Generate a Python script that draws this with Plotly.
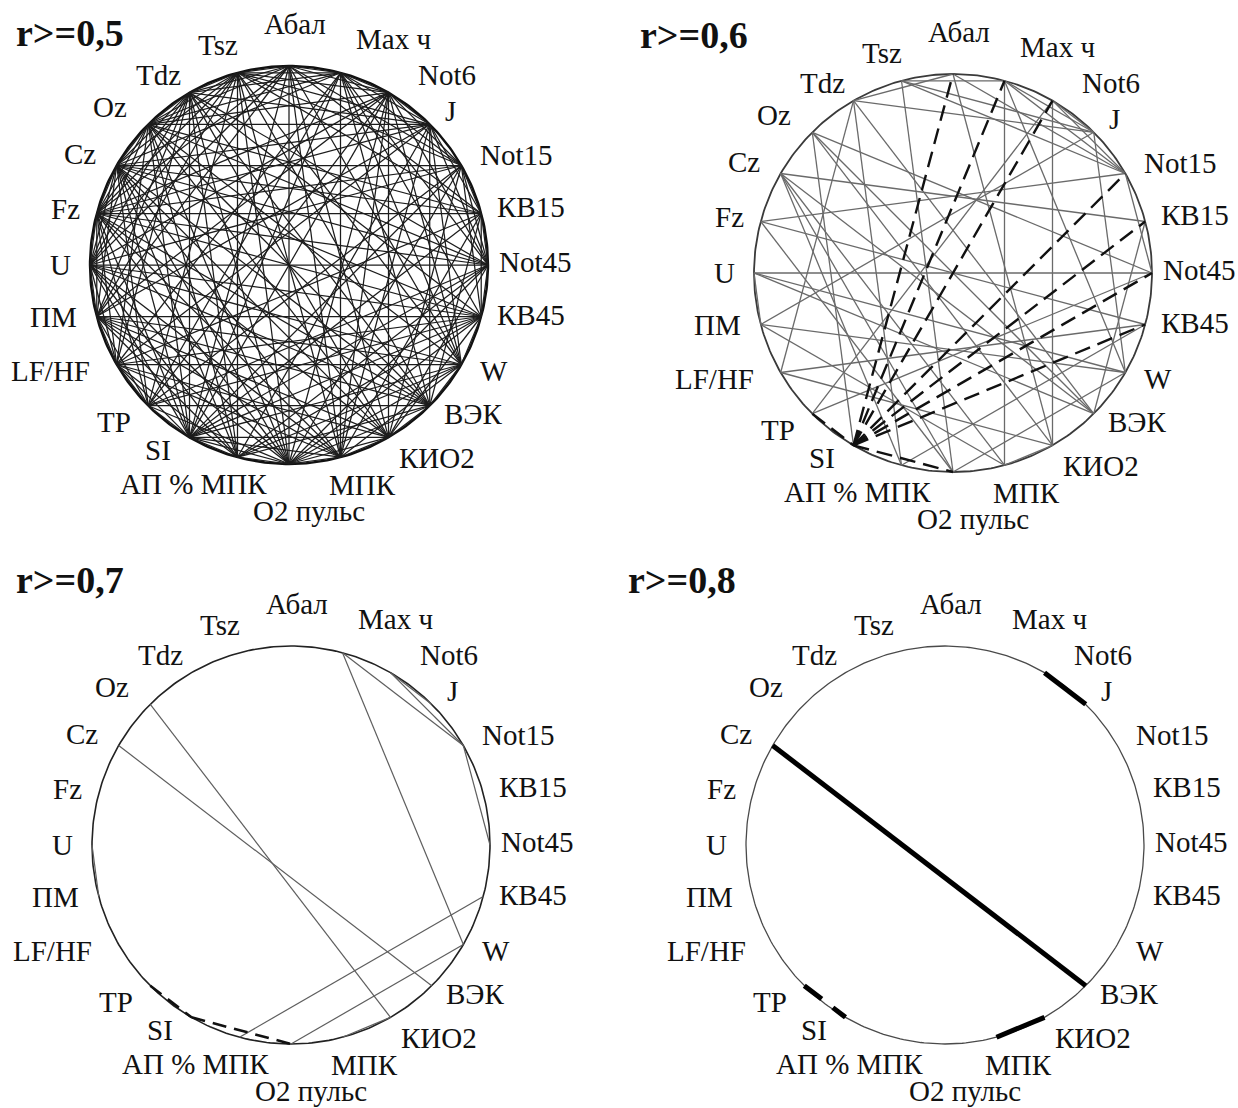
import math
import plotly.graph_objects as go

# ---------------- data ----------------
NODES = ["Абал", "Max ч", "Not6", "J", "Not15", "КВ15", "Not45", "КВ45", "W", "ВЭК",
         "КИО2", "МПК", "O2 пульс", "АП % МПК", "SI", "TP", "LF/HF", "ПМ", "U", "Fz",
         "Cz", "Oz", "Tdz", "Tsz"]

THRESHOLDS = [0.5, 0.6, 0.7, 0.8]

# links (node a, node b, sign of r) grouped by the highest threshold they reach
LINKS_08 = [("Cz", "ВЭК", 1), ("Not6", "J", 1), ("МПК", "КИО2", 1), ("TP", "SI", -1)]

LINKS_07 = [("Oz", "КИО2", 1), ("Max ч", "W", 1), ("Max ч", "Not15", 1), ("Not6", "Not15", 1),
            ("Not15", "Not45", 1), ("КВ45", "АП % МПК", 1), ("W", "O2 пульс", 1),
            ("U", "ПМ", 1), ("SI", "O2 пульс", -1)]

LINKS_06 = [("SI", "Абал", -1), ("SI", "Max ч", -1), ("SI", "Not6", -1), ("SI", "Not15", -1),
            ("SI", "КВ15", -1), ("SI", "Not45", -1), ("SI", "КВ45", -1),
            ("U", "Not45", 1), ("ПМ", "W", 1), ("ПМ", "J", 1), ("LF/HF", "КВ45", 1),
            ("LF/HF", "КИО2", 1), ("U", "W", 1), ("Oz", "SI", 1), ("Tdz", "АП % МПК", 1),
            ("Tdz", "J", 1), ("Tsz", "Not15", 1), ("Tsz", "J", 1), ("Абал", "Not15", 1),
            ("Абал", "КИО2", 1), ("Max ч", "J", 1), ("Max ч", "МПК", 1), ("Not6", "КИО2", 1),
            ("J", "W", 1), ("Cz", "КВ15", 1), ("Cz", "O2 пульс", 1), ("Fz", "Not15", 1),
            ("Fz", "КВ45", 1), ("Oz", "ВЭК", 1), ("Oz", "Not45", 1), ("Tdz", "ВЭК", 1),
            ("Tsz", "O2 пульс", 1), ("МПК", "Cz", 1), ("МПК", "ПМ", 1), ("O2 пульс", "Fz", 1),
            ("АП % МПК", "Cz", 1), ("TP", "Not45", 1), ("TP", "Not6", 1), ("LF/HF", "Tdz", 1),
            ("КВ15", "ВЭК", 1), ("Абал", "Tdz", 1), ("Max ч", "Tsz", 1), ("ВЭК", "U", 1)]

LINKS_05 = [
    ("Абал", "Tsz", 1), ("Абал", "Max ч", 1), ("Абал", "Not6", 1), ("Абал", "КВ15", 1),
    ("Абал", "W", 1), ("Абал", "МПК", 1), ("Абал", "O2 пульс", 1), ("Абал", "Oz", 1),
    ("Абал", "Fz", 1), ("Абал", "U", 1), ("Абал", "ПМ", 1),
    ("Max ч", "Not6", 1), ("Max ч", "Not45", 1), ("Max ч", "КВ45", 1), ("Max ч", "ВЭК", 1),
    ("Max ч", "TP", 1), ("Max ч", "LF/HF", 1), ("Max ч", "Cz", 1), ("Max ч", "Tdz", 1),
    ("Max ч", "Oz", 1),
    ("Not6", "Not45", 1), ("Not6", "W", 1), ("Not6", "МПК", 1), ("Not6", "O2 пульс", 1),
    ("Not6", "ПМ", 1), ("Not6", "U", 1), ("Not6", "Oz", 1), ("Not6", "Tsz", 1), ("Not6", "Fz", 1),
    ("J", "КВ15", 1), ("J", "Not45", 1), ("J", "ВЭК", 1), ("J", "МПК", 1), ("J", "АП % МПК", 1),
    ("J", "LF/HF", 1), ("J", "Fz", 1), ("J", "Cz", 1), ("J", "Oz", 1),
    ("Not15", "КВ15", 1), ("Not15", "КВ45", 1), ("Not15", "КИО2", 1), ("Not15", "O2 пульс", 1),
    ("Not15", "TP", 1), ("Not15", "U", 1), ("Not15", "Cz", 1),
    ("КВ15", "Not45", 1), ("КВ15", "КВ45", 1), ("КВ15", "МПК", 1), ("КВ15", "LF/HF", 1),
    ("КВ15", "Fz", 1), ("КВ15", "Oz", 1), ("КВ15", "Tsz", 1),
    ("Not45", "КВ45", 1), ("Not45", "КИО2", 1), ("Not45", "O2 пульс", 1),
    ("Not45", "АП % МПК", 1), ("Not45", "Fz", 1), ("Not45", "Cz", 1), ("Not45", "Tdz", 1),
    ("КВ45", "W", 1), ("КВ45", "КИО2", 1), ("КВ45", "O2 пульс", 1), ("КВ45", "TP", 1),
    ("КВ45", "ПМ", 1), ("КВ45", "U", 1), ("КВ45", "Cz", 1), ("КВ45", "Tdz", 1),
    ("W", "ВЭК", 1), ("W", "МПК", 1), ("W", "АП % МПК", 1), ("W", "SI", 1), ("W", "LF/HF", 1),
    ("W", "Oz", 1), ("W", "Tsz", 1),
    ("ВЭК", "КИО2", 1), ("ВЭК", "O2 пульс", 1), ("ВЭК", "АП % МПК", 1), ("ВЭК", "TP", 1),
    ("ВЭК", "ПМ", 1), ("ВЭК", "Fz", 1), ("ВЭК", "Tsz", 1),
    ("КИО2", "O2 пульс", 1), ("КИО2", "SI", 1), ("КИО2", "ПМ", 1), ("КИО2", "Fz", 1),
    ("КИО2", "Cz", 1), ("КИО2", "Tdz", 1),
    ("МПК", "O2 пульс", 1), ("МПК", "SI", 1), ("МПК", "LF/HF", 1), ("МПК", "U", 1),
    ("МПК", "Fz", 1), ("МПК", "Tsz", 1),
    ("O2 пульс", "АП % МПК", 1), ("O2 пульс", "TP", 1), ("O2 пульс", "ПМ", 1),
    ("O2 пульс", "U", 1), ("O2 пульс", "Oz", 1), ("O2 пульс", "Tdz", 1),
    ("АП % МПК", "SI", 1), ("АП % МПК", "LF/HF", 1), ("АП % МПК", "ПМ", 1),
    ("АП % МПК", "U", 1), ("АП % МПК", "Oz", 1), ("АП % МПК", "Tsz", 1),
    ("SI", "LF/HF", 1), ("SI", "U", 1), ("SI", "Fz", 1), ("SI", "Cz", 1), ("SI", "Tdz", 1),
    ("TP", "LF/HF", 1), ("TP", "ПМ", 1), ("TP", "Fz", 1), ("TP", "Cz", 1), ("TP", "Tsz", 1),
    ("LF/HF", "ПМ", 1), ("LF/HF", "U", 1), ("LF/HF", "Fz", 1), ("LF/HF", "Oz", 1),
    ("ПМ", "Fz", 1), ("ПМ", "Cz", 1), ("ПМ", "Tdz", 1), ("ПМ", "Tsz", 1),
    ("U", "Fz", 1), ("U", "Cz", 1), ("U", "Oz", 1), ("U", "Tdz", 1), ("U", "Tsz", 1),
    ("Fz", "Cz", 1), ("Fz", "Oz", 1), ("Fz", "Tdz", 1), ("Fz", "Tsz", 1),
    ("Cz", "Oz", 1), ("Cz", "Tdz", 1), ("Cz", "Tsz", 1),
    ("Oz", "Tdz", 1), ("Oz", "Tsz", 1), ("Tdz", "Tsz", 1),
]

BANDS = [(0.8, LINKS_08), (0.7, LINKS_07), (0.6, LINKS_06), (0.5, LINKS_05)]

# ---------------- layout / style ----------------
W, H = 1238, 1108
RADIUS_PX = 199
# panel boxes (x0, y0, x1, y1) in px and circle centre in px
PANELS = [
    dict(box=(0, 0, 619, 554), centre=(289, 265), title_xy=(14, 33)),
    dict(box=(619, 0, 1238, 554), centre=(953, 273), title_xy=(638, 35)),
    dict(box=(0, 554, 619, 1108), centre=(291, 845), title_xy=(14, 580)),
    dict(box=(619, 554, 1238, 1108), centre=(945, 845), title_xy=(626, 580)),
]
STYLES = [
    dict(circle=("#111111", 2.4), pos=("#1c1c1c", 1.25, "solid"), neg=("#1c1c1c", 1.25, "solid")),
    dict(circle=("#3a3a3a", 1.8), pos=("#6a6a6a", 1.3, "solid"), neg=("#111111", 2.4, "16px,8px")),
    dict(circle=("#222222", 1.6), pos=("#5e5e5e", 1.2, "solid"), neg=("#111111", 2.6, "14px,8px")),
    dict(circle=("#4a4a4a", 1.3), pos=("#000000", 5.0, "solid"), neg=("#000000", 5.0, "22px,14px")),
]
# label placement (angle in degrees, distance in circle radii)
LABEL_POLAR = {
    "Абал": (88.6, 1.21), "Max ч": (65.2, 1.25), "Not6": (50.3, 1.24), "J": (43.6, 1.12),
    "Not15": (25.8, 1.27), "КВ15": (13.5, 1.25), "Not45": (0.7, 1.24), "КВ45": (-11.6, 1.24),
    "W": (-27.2, 1.16), "ВЭК": (-38.9, 1.19), "КИО2": (-52.5, 1.22), "МПК": (-71.5, 1.165),
    "O2 пульс": (-85.3, 1.24), "АП % МПК": (-113.5, 1.2), "SI": (-125.2, 1.14),
    "TP": (-138.0, 1.18), "LF/HF": (-156.0, 1.31), "ПМ": (-167.6, 1.21), "U": (180.0, 1.15),
    "Fz": (166.0, 1.155), "Cz": (152.0, 1.19), "Oz": (138.7, 1.2), "Tdz": (124.5, 1.16),
    "Tsz": (107.8, 1.16),
}
LABEL_FONT = dict(family="Liberation Serif, Times New Roman, serif", size=29, color="#111111")
TITLE_FONT = dict(family="Liberation Serif, Times New Roman, serif", size=38, color="#111111")


def node_xy(name):
    a = math.radians(90 - 15 * NODES.index(name))
    return math.cos(a), math.sin(a)


def links_for(threshold):
    seen, out = set(), []
    for band, links in BANDS:
        if band >= threshold - 1e-9:
            for a, b, s in links:
                key = frozenset((a, b))
                if key not in seen:
                    seen.add(key)
                    out.append((a, b, s))
    return out


fig = go.Figure()
layout = dict(width=W, height=H, margin=dict(l=0, r=0, t=0, b=0),
              paper_bgcolor="white", plot_bgcolor="white", showlegend=False)
annotations = []

for k, (thr, panel, style) in enumerate(zip(THRESHOLDS, PANELS, STYLES)):
    x0, y0, x1, y1 = panel["box"]
    cx, cy = panel["centre"]
    R = RADIUS_PX
    xa = "xaxis" if k == 0 else f"xaxis{k + 1}"
    ya = "yaxis" if k == 0 else f"yaxis{k + 1}"
    xr = "x" if k == 0 else f"x{k + 1}"
    yr = "y" if k == 0 else f"y{k + 1}"
    layout[xa] = dict(domain=[x0 / W, x1 / W], range=[(x0 - cx) / R, (x1 - cx) / R],
                      visible=False, anchor=yr, fixedrange=True)
    layout[ya] = dict(domain=[1 - y1 / H, 1 - y0 / H], range=[(cy - y1) / R, (cy - y0) / R],
                      visible=False, anchor=xr, fixedrange=True)

    # circle
    ts = [2 * math.pi * i / 360 for i in range(361)]
    fig.add_trace(go.Scatter(x=[math.cos(t) for t in ts], y=[math.sin(t) for t in ts],
                             mode="lines", xaxis=xr, yaxis=yr, hoverinfo="skip",
                             line=dict(color=style["circle"][0], width=style["circle"][1])))

    links = links_for(thr)
    for sign, key in ((1, "pos"), (-1, "neg")):
        xs, ys = [], []
        for a, b, s in links:
            if s != sign:
                continue
            xa_, ya_ = node_xy(a)
            xb_, yb_ = node_xy(b)
            xs += [xa_, xb_, None]
            ys += [ya_, yb_, None]
        if xs:
            col, wid, dash = style[key]
            fig.add_trace(go.Scatter(x=xs, y=ys, mode="lines", xaxis=xr, yaxis=yr,
                                     hoverinfo="skip",
                                     line=dict(color=col, width=wid, dash=dash)))

    for name in NODES:
        ang, dist = LABEL_POLAR[name]
        a = math.radians(ang)
        annotations.append(dict(x=dist * math.cos(a), y=dist * math.sin(a), xref=xr, yref=yr,
                                text=name, showarrow=False, font=LABEL_FONT,
                                xanchor="center", yanchor="middle"))

    tx, ty = panel["title_xy"]
    annotations.append(dict(x=tx / W, y=1 - ty / H, xref="paper", yref="paper",
                            text="<b>r&gt;=" + f"{thr:.1f}".replace(".", ",") + "</b>",
                            showarrow=False, font=TITLE_FONT, xanchor="left", yanchor="middle"))

layout["annotations"] = annotations
fig.update_layout(**layout)
fig.write_html("out.html")
